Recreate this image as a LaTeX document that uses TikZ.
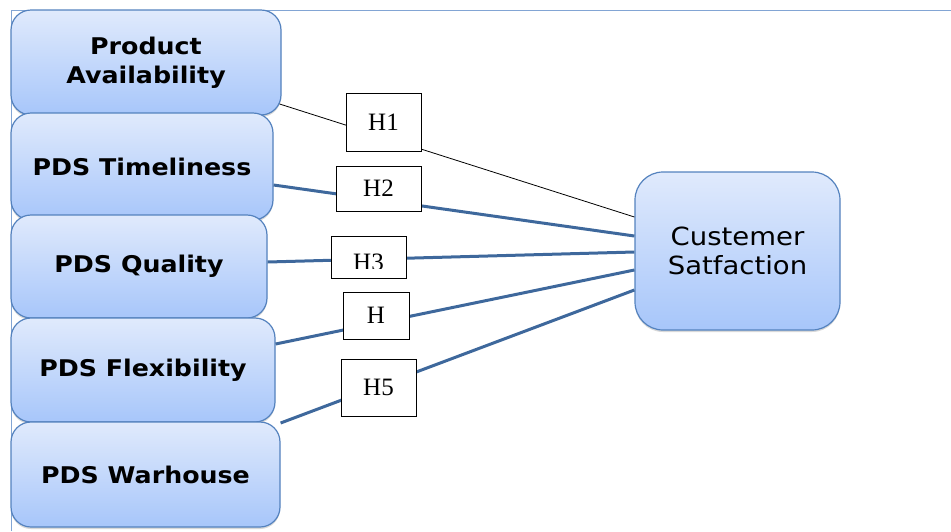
\documentclass[tikz,border=0pt]{standalone}
\usepackage{fontspec}
\setsansfont[FakeStretch=1.1]{DejaVu Sans}
\setmainfont{Liberation Serif}
\usetikzlibrary{calc,shadows}
\definecolor{boxtop}{RGB}{224,234,252}
\definecolor{boxbot}{RGB}{167,198,250}
\definecolor{boxedge}{RGB}{84,130,190}
\definecolor{linkblue}{RGB}{62,104,156}
\definecolor{frameblue}{RGB}{130,165,212}

\tikzset{
  factor/.style={rounded corners=20pt, draw=boxedge, line width=1.2pt,
    top color=boxtop, bottom color=boxbot, align=center,
    font=\sffamily\bfseries\fontsize{23}{29}\selectfont,
    drop shadow={opacity=0.3, shadow xshift=0pt, shadow yshift=-2pt}},
  hyp/.style={draw=black, line width=0.8pt, fill=white, inner sep=0pt,
    font=\fontsize{25}{25}\selectfont},
  link/.style={linkblue, line width=3pt}
}

\begin{document}
\begin{tikzpicture}[x=1pt, y=-1pt]
  \useasboundingbox (0,0) rectangle (951,531);

  % Rahmen
  \draw[frameblue, line width=1pt] (11,531) -- (11,10) -- (951,10);

  % Einflussfaktoren
  \node[factor, minimum width=270pt, minimum height=105pt] (pa) at (146,62.5) {Product\\Availability};
  \node[factor, minimum width=262pt, minimum height=107pt] (pt) at (142,166.5) {PDS Timeliness};
  \node[factor, minimum width=256pt, minimum height=103pt] (pq) at (139,266.5) {PDS Quality};
  \node[factor, minimum width=264pt, minimum height=104pt] (pf) at (143,370) {PDS Flexibility};
  \node[factor, minimum width=269pt, minimum height=105pt] (pw) at (145.5,474.5) {PDS Warhouse};

  % Zielgroesse
  \node[factor, minimum width=205pt, minimum height=158pt, rounded corners=28pt,
        font=\sffamily\fontsize{25}{29}\selectfont] (cs) at (737.5,251) {Custemer\\Satfaction};

  % Verbindungen
  \draw[black, line width=0.8pt] ($(pa.east)+(-2,41.5)$) -- ($(cs.west)+(0,-34)$);
  \draw[link] ($(pt.east)+(0,18.5)$) -- ($(cs.west)+(0,-15)$);
  \draw[link] ($(pq.east)+(0,-4.5)$) -- ($(cs.west)+(0,1)$);
  \draw[link] ($(pf.east)+(0,-26)$) -- ($(cs.west)+(0,19)$);
  \draw[link] ($(pw.east)+(0,-51.5)$) -- ($(cs.west)+(0,39)$);

  % Hypothesen
  \node[hyp, minimum width=75pt, minimum height=58pt] (h1) at (383.5,122) {H1};
  \node[hyp, minimum width=85pt, minimum height=45pt, text depth=-4pt] (h2) at (378.5,188.5) {H2};
  \node[hyp, minimum width=75pt, minimum height=42pt] (h3) at (368.5,257) {};
  \begin{scope}
    \clip (331,236) rectangle (406,268);
    \node[font=\fontsize{25}{25}\selectfont, inner sep=0pt] (h3t) at (368.5,262) {H3};
  \end{scope}
  \node[hyp, minimum width=66pt, minimum height=47pt] (h4) at (376,315.5) {H};
  \node[hyp, minimum width=75pt, minimum height=57pt] (h5) at (378.5,387.5) {H5};
\end{tikzpicture}
\end{document}
